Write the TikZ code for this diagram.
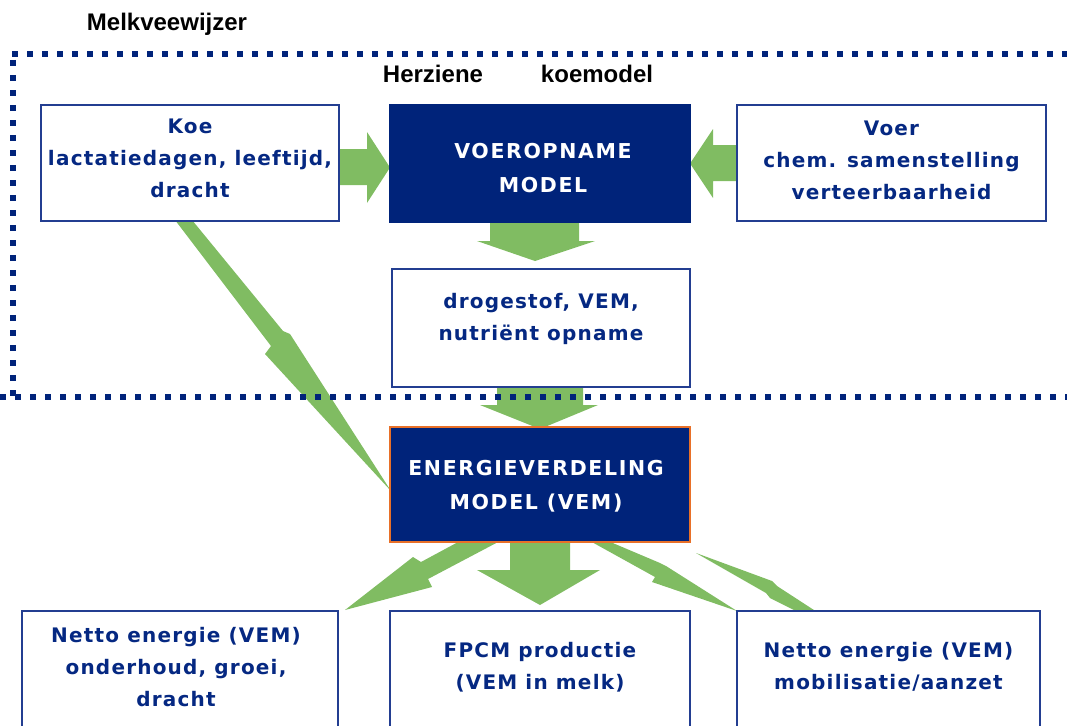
\documentclass[tikz,border=0pt]{standalone}
\usepackage{fontspec}
\setmainfont{Liberation Sans}
\newfontfamily\boxfont[LetterSpace=6]{DejaVu Sans}
\newfontfamily\darkfont[LetterSpace=8]{DejaVu Sans}
\definecolor{navy}{RGB}{0,35,122}
\definecolor{boxline}{RGB}{35,62,145}
\definecolor{navytext}{RGB}{5,40,130}
\definecolor{arrowgreen}{RGB}{128,188,98}
\definecolor{edgeorange}{RGB}{232,112,40}
\tikzset{
  whitebox/.style={draw=boxline, line width=1.6pt, fill=white, inner sep=0pt},
  darkbox/.style={draw=navy, line width=1.6pt, fill=navy, inner sep=0pt},
  orangebox/.style={draw=edgeorange, line width=1.6pt, fill=navy, inner sep=0pt},
  boxtext/.style={text=navytext, align=center, inner sep=0pt, font=\boxfont\bfseries\fontsize{20}{32}\selectfont},
  darktext/.style={text=white, align=center, inner sep=0pt, font=\darkfont\bfseries\fontsize{20.5}{34}\selectfont},
  titletext/.style={text=black, inner sep=0pt, anchor=base, font=\bfseries\fontsize{24}{27}\selectfont},
  greenarrow/.style={fill=arrowgreen, draw=none},
  dotline/.style={draw=navy, line width=6pt, dash pattern=on 6pt off 9pt}
}
\begin{document}
\begin{tikzpicture}[x=1pt,y=-1pt]
\useasboundingbox (0,0) rectangle (1067,725);
\clip (0,0) rectangle (1067,725);

% titles
\node[titletext] (melk) at (167,31) {Melkveewijzer};
\node[titletext] (herz) at (433,82) {Herziene};
\node[titletext] (koem) at (597,82) {koemodel};

% arrows (drawn first, under frame and boxes)
\fill[greenarrow] (338,149) -- (367,149) -- (367,132) -- (390,167.5) -- (367,203) -- (367,185) -- (338,185) -- cycle;
\fill[greenarrow] (738,145) -- (713,145) -- (713,129) -- (690,163.5) -- (713,198) -- (713,181) -- (738,181) -- cycle;
\fill[greenarrow] (490,221) -- (579,221) -- (579,241) -- (595,241) -- (535,261) -- (477,241) -- (490,241) -- cycle;
\fill[greenarrow] (497,386) -- (583,386) -- (583,405) -- (598,405) -- (540,429) -- (480,405) -- (497,405) -- cycle;
\fill[greenarrow] (510,541) -- (570,541) -- (570,570) -- (600,570) -- (540,605) -- (477,570) -- (510,570) -- cycle;
% Koe -> Energieverdeling
\fill[greenarrow] (175,220) -- (192,220) -- (283,331) -- (290,334) -- (391,491) -- (265,354) -- (271,346) -- cycle;
% Energieverdeling -> left bottom
\fill[greenarrow] (460,541) -- (500,541) -- (428,579) -- (432,587) -- (345,610) -- (413,557) -- (421,562) -- cycle;
% Energieverdeling -> right
\fill[greenarrow] (590,541) -- (608,541) -- (660,563) -- (666,566) -- (737,611) -- (652,582) -- (655,577) -- cycle;
% mobilisatie wedge
\fill[greenarrow] (696,553) -- (772,581) -- (777,586) -- (817,612) -- (798,612) -- (770,598) -- (766,593) -- cycle;

% dotted frame
\draw[dotline] (12,54.5) -- (1067,54.5);
\draw[dotline] (0,396.5) -- (1067,396.5);
\draw[dotline] (12.5,60) -- (12.5,396);

% boxes
\node[whitebox, minimum width=298pt, minimum height=116pt] (koe) at (190,163) {};
\node[darkbox, minimum width=300pt, minimum height=117pt] (voeropname) at (540,163.5) {};
\node[whitebox, minimum width=309pt, minimum height=116pt] (voer) at (891.5,163) {};
\node[whitebox, minimum width=298pt, minimum height=118pt] (droge) at (541,328) {};
\node[orangebox, minimum width=300pt, minimum height=115pt] (energie) at (540,484.5) {};
\node[whitebox, minimum width=316pt, minimum height=140pt] (onderhoud) at (180,681) {};
\node[whitebox, minimum width=300pt, minimum height=140pt] (fpcm) at (540,681) {};
\node[whitebox, minimum width=303pt, minimum height=140pt] (mobil) at (888.5,681) {};

% texts
\node[boxtext] (koet) at (190,158) {Koe\\lactatiedagen, leeftijd,\\dracht};
\node[darktext] (voeropnamet) at (543,168) {VOEROPNAME\\MODEL};
\node[boxtext] (voert) at (891.5,160) {Voer\\chem. samenstelling\\verteerbaarheid};
\node[boxtext] (droget) at (541,319) {drogestof, VEM,\\nutriënt opname};
\node[darktext] (energiet) at (536,486) {ENERGIEVERDELING\\MODEL (VEM)};
\node[boxtext] (onderhoudt) at (176,667) {Netto energie (VEM)\\onderhoud, groei,\\dracht};
\node[boxtext] (fpcmt) at (540,667) {FPCM productie\\(VEM in melk)};
\node[boxtext] (mobilt) at (888.5,667) {Netto energie (VEM)\\mobilisatie/aanzet};
\end{tikzpicture}
\end{document}
